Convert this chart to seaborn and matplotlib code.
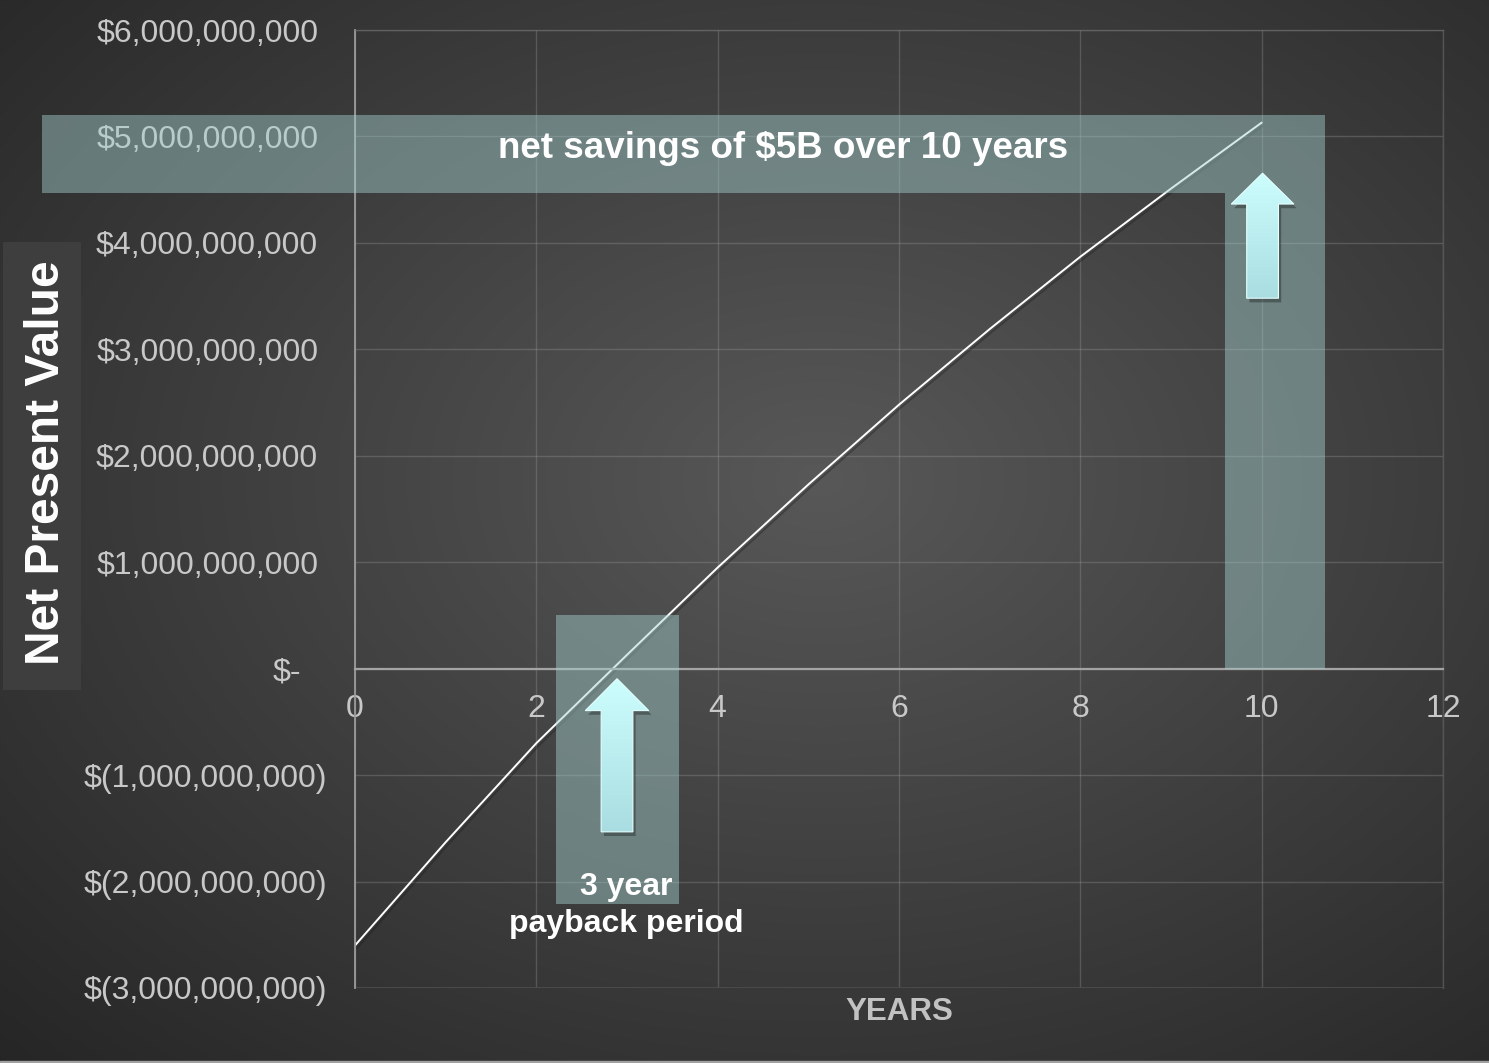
import numpy as np
import pandas as pd
import matplotlib
matplotlib.use("Agg")
import matplotlib.pyplot as plt
import matplotlib.patheffects as pe
import matplotlib.transforms as mtransforms
from matplotlib.patches import Rectangle, FancyArrow
from matplotlib.ticker import FixedLocator, FuncFormatter
from matplotlib.colors import LinearSegmentedColormap
import seaborn as sns

# ---- data -------------------------------------------------------------
years = [0, 1, 2, 3, 4, 5, 6, 7, 8, 9, 10]
npv_billions = [-2.60, -1.63, -0.70, 0.13, 0.95, 1.73, 2.48, 3.19, 3.87, 4.51, 5.13]
x_ticks = [0, 2, 4, 6, 8, 10, 12]
y_ticks_billions = [-3, -2, -1, 0, 1, 2, 3, 4, 5, 6]
payback_year = 2.85
horizon_year = 10
savings_label = "net savings of $5B over 10 years"
payback_label = "3 year\npayback period"
x_label = "YEARS"
y_label = "Net Present Value"

B = 1e9
df = pd.DataFrame({"year": years, "npv": [v * B for v in npv_billions]})

# ---- style ------------------------------------------------------------
sns.set_theme(style="dark")
plt.rcParams["font.family"] = ["Liberation Sans", "DejaVu Sans"]

W, H = 1489, 1063
fig = plt.figure(figsize=(W / 100, H / 100), dpi=100)

# radial dark-grey backdrop
bg = fig.add_axes([0, 0, 1, 1], zorder=-10)
yy, xx = np.mgrid[0:H, 0:W]
r = np.sqrt(((xx - 820) / W) ** 2 + ((yy - 480) / H) ** 2) / 0.71
shade = np.clip(88 - 46 * r, 30, 255) / 255.0
bg.imshow(np.dstack([shade, shade, shade]), aspect="auto", extent=[0, 1, 0, 1],
          interpolation="bilinear")
bg.set_axis_off()
bg.set_xlim(0, 1)
bg.set_ylim(0, 1)
# thin light edge along the bottom of the canvas
bg.add_patch(Rectangle((0, 0), 1, 2 / H, color="#a0a0a0", transform=bg.transAxes, zorder=3))

# box behind the y-axis title
fig.patches.append(Rectangle((3 / W, 1 - 690 / H), 78 / W, 448 / H,
                             transform=fig.transFigure, facecolor="#3e3e3e",
                             edgecolor="none", zorder=0))

ax = fig.add_axes([355 / W, 1 - 988 / H, (1443 - 355) / W, (988 - 30) / H])
ax.set_facecolor("none")

sns.lineplot(data=df, x="year", y="npv", ax=ax, color="white", linewidth=1.4,
             zorder=2,
             path_effects=[pe.SimpleLineShadow(offset=(1.5, -2), alpha=0.35),
                           pe.Normal()])

# axes, grid and ticks
ax.set_xlim(0, 12)
ax.set_ylim(-3 * B, 6 * B)
ax.xaxis.set_major_locator(FixedLocator(x_ticks))
ax.yaxis.set_major_locator(FixedLocator([v * B for v in y_ticks_billions]))


def money(v, pos=None):
    if abs(v) < 1:
        return "$-"
    if v < 0:
        return "$({:,.0f})".format(abs(v))
    return "${:,.0f}".format(v)


ax.yaxis.set_major_formatter(FuncFormatter(money))
ax.xaxis.set_major_formatter(FuncFormatter(lambda v, p: f"{v:.0f}"))
ax.grid(True, color="#a0a0a0", alpha=0.3, linewidth=1.0)
ax.tick_params(axis="both", length=0, colors="#c8c8c8", labelsize=23)
ax.tick_params(axis="x", pad=18.5)

for sp in ["top", "right"]:
    ax.spines[sp].set_color("#6a6a6a")
    ax.spines[sp].set_linewidth(1.0)
    ax.spines[sp].set_alpha(0.6)
ax.spines["left"].set_color("#9c9c9c")
ax.spines["left"].set_linewidth(1.3)
ax.spines["bottom"].set_position(("data", 0))
ax.spines["bottom"].set_color("#a4a4a4")
ax.spines["bottom"].set_linewidth(1.6)
ax.axhline(-3 * B, color="#4c4c4c", linewidth=2.0, zorder=1)

# per-label padding keeps the accounting-style column alignment
for tick, v in zip(ax.yaxis.get_major_ticks(), y_ticks_billions):
    if v < 0:
        tick.set_pad(20)
    elif v == 0:
        tick.set_pad(39)
    else:
        tick.set_pad(26.5)

ax.set_xlabel(x_label, fontsize=22.5, fontweight="bold", color="#c2c2c2")
ax.xaxis.set_label_coords(0.5, -0.0255)
ax.xaxis.label.set_va("center")
ax.set_ylabel("")
fig.text(47 / W, 1 - 463 / H, y_label, rotation=90, ha="center", va="center",
         fontsize=34.5, fontweight="bold", color="white")

# highlight bands
band_kw = dict(facecolor="#a8d2d2", edgecolor="none", alpha=0.45, zorder=3)
ax.add_patch(Rectangle((-3.452, 4.47 * B), 9.595 + 3.452, 0.73 * B, clip_on=False, **band_kw))
ax.add_patch(Rectangle((9.595, 0), 10.70 - 9.595, 5.20 * B, clip_on=False, **band_kw))
ax.add_patch(Rectangle((2.217, -2.21 * B), 3.573 - 2.217, 2.71 * B, clip_on=False, **band_kw))

# pale cyan arrows with a vertical gradient
arrow_cmap = LinearSegmentedColormap.from_list("arrow", ["#a9dde1", "#cdfefe"])
shadow_tf = ax.transData + mtransforms.ScaledTranslation(2 / 72, -3 / 72, fig.dpi_scale_trans)


def up_arrow(x, y_tip, y_base, shaft_w, head_w, head_len):
    kw = dict(width=shaft_w, head_width=head_w, head_length=head_len,
              length_includes_head=True)
    shadow = FancyArrow(x, y_base, 0, y_tip - y_base, facecolor="black",
                        edgecolor="none", alpha=0.3, zorder=4, **kw)
    shadow.set_transform(shadow_tf)
    ax.add_patch(shadow)
    outline = FancyArrow(x, y_base, 0, y_tip - y_base, facecolor="none",
                         edgecolor="#e6ffff", linewidth=0.8, zorder=6, **kw)
    ax.add_patch(outline)
    grad = np.linspace(0, 1, 256).reshape(-1, 1)
    im = ax.imshow(grad, cmap=arrow_cmap, origin="lower", aspect="auto",
                   extent=[x - head_w / 2, x + head_w / 2, y_base, y_tip],
                   zorder=5, interpolation="bilinear")
    im.set_clip_path(outline)


up_arrow(payback_year + 0.04, -0.094 * B, -1.533 * B, 0.35, 0.70, 0.30 * B)
up_arrow(horizon_year + 0.01, 4.655 * B, 3.48 * B, 0.35, 0.69, 0.29 * B)

# callout text
ax.text(4.72, 4.89 * B, savings_label, ha="center", va="center", fontsize=26.5,
        fontweight="bold", color="white", zorder=7)
ax.text(2.99, -2.225 * B, payback_label, ha="center", va="center", fontsize=23,
        fontweight="bold", color="white", linespacing=1.3, zorder=7)

ax.set_xlim(0, 12)
ax.set_ylim(-3 * B, 6 * B)

fig.savefig("out.png", dpi=100)
